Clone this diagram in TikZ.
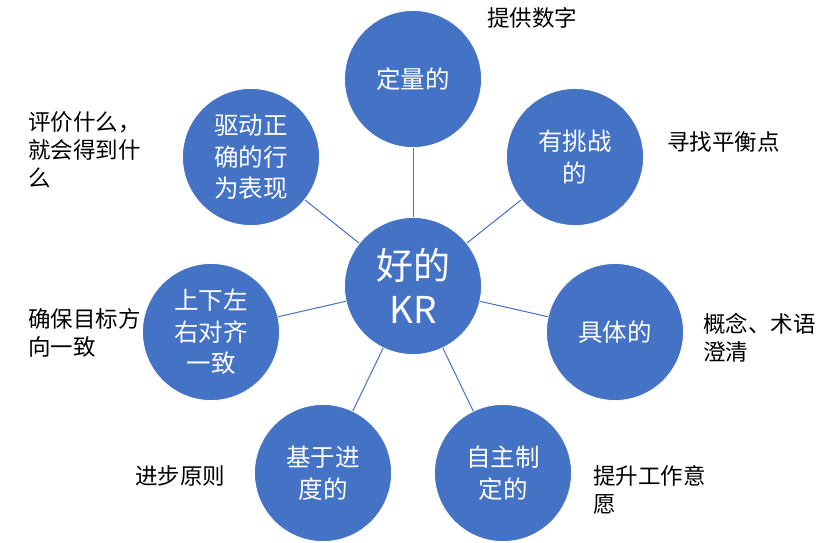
\documentclass[tikz,border=0pt]{standalone}
\usepackage{fontspec}
\setmainfont{Noto Sans CJK SC}
\definecolor{okblue}{HTML}{4472C4}
\begin{document}
\begin{tikzpicture}[x=1pt,y=-1pt,
  bubble/.style={circle,fill=okblue,draw=white,line width=0.8pt,minimum size=137pt,inner sep=0pt,
    text=white,align=center,font=\fontsize{24.5}{31.5}\selectfont},
  hub/.style={bubble,font=\fontsize{37}{44}\selectfont},
  note/.style={anchor=west,align=left,inner sep=0pt,text=black,font=\fontsize{22.5}{28}\selectfont},
  link/.style={draw=okblue,line width=1pt}]
\useasboundingbox[fill=white] (0,0) rectangle (829,542);
\node[hub] (c) at (413,286) {好的\\KR};
\node[bubble] (a1) at (413,79) {定量的};
\node[bubble] (a2) at (575,157) {有挑战\\的};
\node[bubble] (a3) at (615,332) {具体的};
\node[bubble] (a4) at (503,473) {自主制\\定的};
\node[bubble] (a5) at (323,473) {基于进\\度的};
\node[bubble] (a6) at (211,332) {上下左\\右对齐\\一致};
\node[bubble] (a7) at (251,157) {驱动正\\确的行\\为表现};
\foreach \i in {1,...,7} \draw[link] (c) -- (a\i);
\node[note] (n1) at (487,18) {提供数字};
\node[note] (n2) at (667,142) {寻找平衡点};
\node[note] (n3) at (703,338) {概念、术语\\澄清};
\node[note] (n4) at (593,490) {提升工作意\\愿};
\node[note] (n5) at (135,476) {进步原则};
\node[note] (n6) at (28,333) {确保目标方\\向一致};
\node[note] (n7) at (28,150) {评价什么，\\就会得到什\\么};
\end{tikzpicture}
\end{document}
